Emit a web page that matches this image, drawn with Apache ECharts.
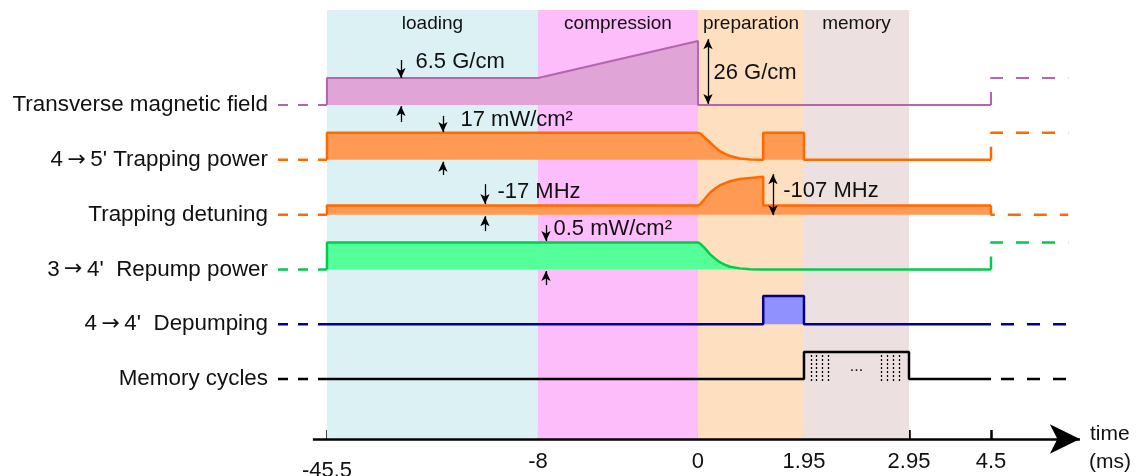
<!DOCTYPE html>
<html><head><meta charset="utf-8">
<script src="https://cdn.jsdelivr.net/npm/echarts@6/dist/echarts.min.js"></script>
<style>html,body{margin:0;padding:0;background:#fff}#c{width:1138px;height:476px}</style>
</head><body><div id="c"></div>
<script>
// ================= DATA =================
const tickTimes  = [-45.5, -8, 0, 1.95, 2.95, 4.5];
const tickLabels = ['-45.5', '-8', '0', '1.95', '2.95', '4.5'];

const phaseNames = ['loading', 'compression', 'preparation', 'memory'];
const phaseStart = [-45.5, -8, 0, 1.95];
const phaseEnd   = [-8, 0, 1.95, 2.95];

const rowLabels = ['Transverse magnetic field', "4\u2009{a|\u2192}\u20095' Trapping power", 'Trapping detuning',
                   "3\u2009{a|\u2192}\u20094'  Repump power", "4\u2009{a|\u2192}\u20094'  Depumping", 'Memory cycles'];

// signal shapes: time (ms) and relative level (schematic)
const magT  = [-45.5, -45.5, -8, 0, 0, 4.5];
const magV  = [0, 1, 1, 2.37, 0, 0];
const trapT = [-45.5, -45.5, 0, 0.04, 0.13, 0.22, 0.31, 0.40, 0.50, 0.59, 0.77, 0.96, 1.2, 1.2, 1.95, 1.95, 4.5];
const trapV = [0, 1, 1, 0.98, 0.81, 0.65, 0.48, 0.32, 0.22, 0.14, 0.05, 0.01, 0, 1, 1, 0, 0];
const detT  = [-45.5, -45.5, 0, 0.04, 0.13, 0.22, 0.31, 0.40, 0.50, 0.59, 0.77, 0.96, 1.2, 1.2, 4.5];
const detV  = [0, 0.34, 0.34, 0.38, 0.60, 0.81, 0.96, 1.08, 1.17, 1.24, 1.32, 1.36, 1.40, 0.34, 0.34];
const repT  = [-45.5, -45.5, 0, 0.04, 0.13, 0.22, 0.31, 0.40, 0.50, 0.59, 0.77, 0.96, 1.2, 4.5];
const repV  = [0, 1, 1, 0.96, 0.78, 0.57, 0.41, 0.27, 0.17, 0.10, 0.04, 0.01, 0, 0];
const depT  = [-45.5, 1.2, 1.2, 1.95, 1.95, 4.5];
const depV  = [0, 0, 1.05, 1.05, 0, 0];
const memT  = [-45.5, 1.95, 1.95, 2.95, 2.95, 4.5];
const memV  = [0, 0, 1, 1, 0, 0];
const nextCycleLevel = [1, 1, 0, 1, 0, 0];
const memCycleMarks = [2.02, 2.07, 2.12, 2.18, 2.69, 2.74, 2.80, 2.86];

const annTexts = ['6.5 G/cm', '17 mW/cm\u00b2', '-17 MHz', '0.5 mW/cm\u00b2', '26 G/cm', '-107 MHz'];

// ================= LAYOUT / STYLE =================
const FONT = '"Liberation Sans", Arial, Helvetica, sans-serif';
const axisPx = [0, 211, 371, 477, 582, 664];          // display position of each tick time (piecewise scale)
const ROW_BASE = [12.37, 10.34, 8.31, 6.28, 4.25, 2.22];
const PRE_T = -54.2, POST_T = 5.96, AXIS_START_T = -48, AXIS_END_T = 6.18;
const phaseColors = ['#dcf1f3', '#fdbcfa', '#fedfc0', '#ede0e0'];
const rowStyles = [
  {line: '#b564b0', fill: '#e0a4d6', w: 2, off: 0},
  {line: '#ff6a00', fill: '#ff9a55', w: 2.5, off: 0},
  {line: '#ff6a00', fill: '#ff9a55', w: 2.5, off: 0},
  {line: '#00cc4e', fill: '#55ff99', w: 2.5, off: 0},
  {line: '#000088', fill: '#9090ff', w: 2.5, off: 16},
  {line: '#000000', fill: null, w: 2.5, off: 16}
];

function tx(t) {
  const n = tickTimes.length;
  let i = 0;
  if (t <= tickTimes[0]) i = 0;
  else if (t >= tickTimes[n - 1]) i = n - 2;
  else { while (t > tickTimes[i + 1]) i++; }
  const t0 = tickTimes[i], t1 = tickTimes[i + 1], p0 = axisPx[i], p1 = axisPx[i + 1];
  return p0 + (t - t0) * (p1 - p0) / (t1 - t0);
}
function nearestIdx(arr, v) {
  let best = 0;
  arr.forEach((a, i) => { if (Math.abs(a - v) < Math.abs(arr[best] - v)) best = i; });
  return best;
}

const rowsT = [magT, trapT, detT, repT, depT, memT];
const rowsV = [magV, trapV, detV, repV, depV, memV];

const series = [];
// background phases
series.push({
  type: 'line', data: [], z: 0, silent: true,
  markArea: {
    silent: true,
    label: {show: true, position: 'insideTop', distance: 4, fontSize: 19, fontFamily: FONT, color: '#111'},
    data: phaseNames.map((nm, i) => [
      {name: nm, xAxis: tx(phaseStart[i]), itemStyle: {color: phaseColors[i]}},
      {xAxis: tx(phaseEnd[i])}
    ])
  }
});

rowsT.forEach((T, i) => {
  const b = ROW_BASE[i], st = rowStyles[i];
  const V = rowsV[i];
  const s = {
    type: 'line', z: 2, silent: true, showSymbol: false, animation: false,
    data: T.map((t, j) => [tx(t), b + V[j]]),
    lineStyle: {color: st.line, width: st.w},
    itemStyle: {color: st.line}
  };
  if (st.fill) s.areaStyle = {color: st.fill, opacity: 1, origin: b};
  series.push(s);
  // lead-in dashes
  series.push({
    type: 'line', z: 2, silent: true, showSymbol: false, animation: false,
    data: [[tx(PRE_T), b], [tx(tickTimes[0]), b]],
    lineStyle: {color: st.line, width: st.w, type: [10, 10]}
  });
  // next-cycle dashes
  const last = V[V.length - 1];
  series.push({
    type: 'line', z: 2, silent: true, showSymbol: false, animation: false,
    data: [[tx(4.5), b + last], [tx(4.5), b + nextCycleLevel[i]], [tx(POST_T), b + nextCycleLevel[i]]],
    lineStyle: {color: st.line, width: st.w, type: [13, 13], dashOffset: st.off}
  });
});

// annotations
function arrow(t, y1, y2, both) {
  return [
    {coord: [tx(t), y1], symbol: both ? 'arrow' : 'none', symbolSize: [7, 10]},
    {coord: [tx(t), y2], symbol: 'arrow', symbolSize: [7, 10]}
  ];
}
const B = ROW_BASE;
const arrows = [
  arrow(-32.35, B[0] + 1.67, B[0] + 1.0), arrow(-32.35, B[0] - 0.63, B[0] - 0.04),
  arrow(-24.89, B[1] + 1.63, B[1] + 1.03), arrow(-24.89, B[1] - 0.56, B[1] - 0.07),
  arrow(-17.42, B[2] + 1.13, B[2] + 0.39), arrow(-17.42, B[2] - 0.61, B[2] - 0.06),
  arrow(-7.6, B[3] + 1.64, B[3] + 1.05), arrow(-7.6, B[3] - 0.58, B[3] - 0.06),
  arrow(0.184, B[0] + 2.44, B[0] + 0.04, true),
  arrow(1.38, B[2] + 1.5, B[2] - 0.02, true)
];
const textPts = [
  [-29.86, B[0] + 1.59], [-21.86, B[1] + 1.48], [-15.29, B[2] + 0.83],
  [-7.25, B[3] + 1.49], [0.276, B[0] + 1.19], [1.56, B[2] + 0.87]
];
series.push({
  type: 'line', data: [], z: 6, silent: true, animation: false,
  markLine: {
    silent: true, animation: false, label: {show: false},
    lineStyle: {color: '#000', width: 1.3, type: 'solid'},
    emphasis: {disabled: true},
    data: arrows
  },
  markPoint: {
    silent: true, animation: false, symbol: 'circle', symbolSize: 1,
    itemStyle: {color: 'rgba(0,0,0,0)'},
    label: {show: true, position: 'right', distance: 0, fontSize: 22, fontFamily: FONT, color: '#111',
            formatter: p => p.name},
    data: textPts.map((p, i) => ({name: annTexts[i], coord: [tx(p[0]), p[1]]}))
  }
});
// memory cycle marks
series.push({
  type: 'line', data: [], z: 5, silent: true, animation: false,
  markLine: {
    silent: true, animation: false, symbol: ['none', 'none'], label: {show: false},
    lineStyle: {color: '#000', width: 1.3, type: [2, 2]},
    emphasis: {disabled: true},
    data: memCycleMarks.map(t => [{coord: [tx(t), B[5] + 0.89]}, {coord: [tx(t), B[5] - 0.13]}])
  },
  markPoint: {
    silent: true, animation: false, symbol: 'circle', symbolSize: 1, itemStyle: {color: 'rgba(0,0,0,0)'},
    label: {show: true, position: 'inside', fontSize: 16, fontFamily: FONT, color: '#111', formatter: '...'},
    data: [{coord: [tx(2.45), B[5] + 0.45]}]
  }
});
// time axis line with arrow
series.push({
  type: 'line', data: [], z: 6, silent: true, animation: false,
  markLine: {
    silent: true, animation: false, label: {show: false},
    lineStyle: {color: '#000', width: 2.5, type: 'solid'},
    emphasis: {disabled: true},
    data: [[{coord: [tx(AXIS_START_T), 0], symbol: 'none'}, {coord: [tx(AXIS_END_T), 0], symbol: 'arrow', symbolSize: [22, 30]}]]
  }
});

const tickPos = tickTimes.map(tx);
const option = {
  animation: false,
  backgroundColor: '#fff',
  grid: {left: 277, right: 55, top: 10, bottom: 37, containLabel: false, outerBoundsMode: 'none'},
  xAxis: {
    type: 'value', min: tx(PRE_T) - 1, max: 756,
    axisLine: {show: false},
    splitLine: {show: false},
    axisTick: {show: true, inside: true, length: 9, customValues: tickPos, lineStyle: {color: '#000', width: 2.5}},
    axisLabel: {
      show: true, customValues: tickPos, margin: 12, fontSize: 22, fontFamily: FONT, color: '#111',
      formatter: v => { const i = nearestIdx(tickPos, v); return i === 0 ? '{low|' + tickLabels[i] + '}' : tickLabels[i]; },
      rich: {low: {fontSize: 22, fontFamily: FONT, color: '#111', lineHeight: 40}}
    }
  },
  yAxis: {
    type: 'value', min: 0, max: 15.89,
    axisLine: {show: false}, axisTick: {show: false}, splitLine: {show: false},
    axisLabel: {
      show: true, customValues: ROW_BASE, margin: 9, fontSize: 22.4, fontFamily: FONT, color: '#111',
      formatter: v => rowLabels[nearestIdx(ROW_BASE, v)],
      rich: {a: {fontSize: 22, fontFamily: '"DejaVu Sans", sans-serif', color: '#111'}}
    }
  },
  graphic: [
    {type: 'text', left: 1090, top: 424, style: {text: 'time', fontSize: 21, fontFamily: FONT, fill: '#111'}},
    {type: 'text', left: 1089, top: 452, style: {text: '(ms)', fontSize: 21, fontFamily: FONT, fill: '#111'}}
  ],
  series: series
};
const chart = echarts.init(document.getElementById('c'));
chart.setOption(option);
</script>
</body></html>
